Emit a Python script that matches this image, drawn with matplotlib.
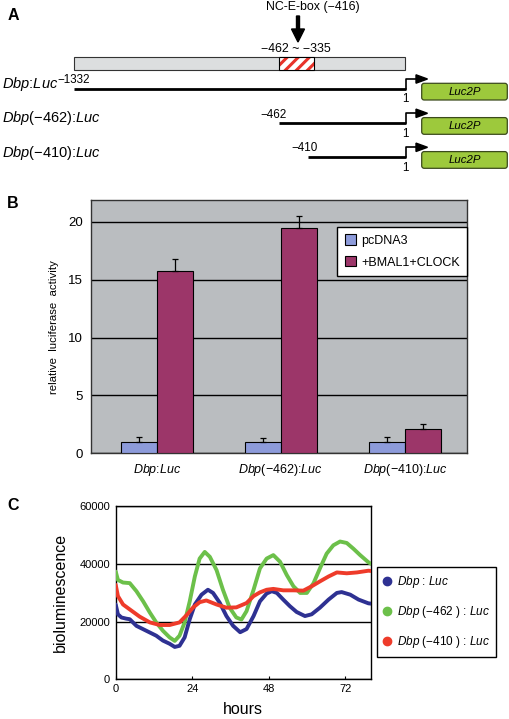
import matplotlib
matplotlib.use("Agg")
import matplotlib.pyplot as plt
from matplotlib.patches import Rectangle, FancyBboxPatch, FancyArrow, Polygon
from matplotlib.lines import Line2D
import numpy as np

plt.rcParams['font.family'] = ['Liberation Sans', 'DejaVu Sans']
plt.rcParams['mathtext.fontset'] = 'custom'
plt.rcParams['mathtext.rm'] = 'Liberation Sans'
plt.rcParams['mathtext.it'] = 'Liberation Sans:italic'
plt.rcParams['hatch.linewidth'] = 2.2

# ---------------- data ----------------
# Panel A (schematic)
construct_labels = [r"$\it{Dbp}$:$\it{Luc}$", r"$\it{Dbp}$(−462):$\it{Luc}$", r"$\it{Dbp}$(−410):$\it{Luc}$"]
construct_start_labels = ["−1332", "−462", "−410"]
reporter_label = "Luc2P"
ebox_label = "NC-E-box (−416)"
region_label = "−462 ~ −335"

# Panel B
groups = [r"$\it{Dbp}$:$\it{Luc}$", r"$\it{Dbp}$(−462):$\it{Luc}$", r"$\it{Dbp}$(−410):$\it{Luc}$"]
pcdna3 = [1.0, 1.0, 1.0]
pcdna3_err = [0.4, 0.35, 0.4]
bmal_clock = [15.8, 19.5, 2.1]
bmal_clock_err = [1.0, 1.0, 0.45]
series_b = ["pcDNA3", "+BMAL1+CLOCK"]

# Panel C
hours_dbp = [0, 0.7, 1.8, 3.3, 4.4, 6.5, 9.6, 12.7, 14.8, 16.9, 18.5, 20.0, 21.6, 23.2,
             24.8, 26.9, 28.9, 30.5, 32.6, 34.7, 36.8, 39.0, 41.0, 43.2, 45.2, 47.3, 48.9,
             50.5, 52.5, 54.6, 56.7, 59.3, 61.4, 64.0, 66.7, 69.3, 70.8, 73.5, 76.1, 79.2, 80]
lum_dbp = [25900, 22500, 21400, 21000, 20800, 18500, 16800, 15100, 13400, 12300, 11200, 11600,
           14500, 20800, 25900, 29300, 31000, 29900, 26500, 21900, 18500, 16300, 17400, 21900,
           27000, 29700, 30500, 29900, 27600, 25300, 23300, 21900, 22500, 24800, 27600, 29900,
           30200, 29300, 27600, 26300, 26200]
hours_462 = [0, 0.7, 2.3, 4.4, 6.5, 8.6, 10.7, 12.7, 14.8, 16.9, 18.5, 20.0, 21.6, 23.2, 24.8,
             26.3, 27.9, 29.5, 31.6, 33.6, 35.7, 37.8, 39.4, 41.0, 43.2, 45.2, 47.3, 49.4, 51.5,
             53.6, 55.7, 57.8, 59.9, 62.0, 64.0, 66.1, 68.2, 70.3, 72.4, 74.5, 76.6, 79.2, 80]
lum_462 = [37300, 34400, 33500, 33300, 30500, 27000, 23100, 19700, 16800, 14500, 13300, 15100,
           19700, 27000, 35600, 41800, 44100, 42400, 37800, 31000, 24800, 21400, 20700, 23600,
           31000, 38400, 41800, 43000, 40700, 36100, 32200, 29900, 29900, 33300, 38400, 43500,
           46400, 47700, 47200, 45200, 43000, 40500, 40000]
hours_410 = [0, 0.7, 2.3, 4.4, 7.5, 10.7, 13.8, 16.9, 20.0, 22.2, 24.2, 26.3, 28.4, 31.6, 34.7,
             37.8, 41.0, 43.2, 45.2, 47.3, 49.4, 52.5, 55.7, 58.8, 61.4, 64.0, 66.7, 69.3, 72.4,
             75.6, 79.2, 80]
lum_410 = [32700, 28800, 25900, 24200, 21700, 19700, 18800, 18800, 19700, 22200, 24800, 26700,
           27300, 25900, 24800, 24900, 26400, 28800, 30100, 31000, 31300, 30800, 30800, 30700,
           32200, 33900, 35600, 37000, 36700, 37000, 37600, 37500]
series_c = [r"$\it{Dbp}$ : $\it{Luc}$", r"$\it{Dbp}$ (−462 ) : $\it{Luc}$", r"$\it{Dbp}$ (−410 ) : $\it{Luc}$"]
colors_c = ["#2e3192", "#6cc04a", "#ee3b2a"]

W, H = 509, 719
fig = plt.figure(figsize=(W / 100, H / 100), dpi=100)
fig.patch.set_facecolor("white")

def fx(x):
    return x / W

def fy(y):
    return 1 - y / H

# ---------------- Panel A ----------------
axA = fig.add_axes([0, fy(190), 1, 190 / H])
axA.set_xlim(0, W)
axA.set_ylim(190, 0)
axA.axis("off")

axA.text(313, 7, ebox_label, ha="center", va="center", fontsize=8.9)
axA.add_patch(FancyArrow(298, 16, 0, 26, width=3, head_width=13, head_length=13,
                         length_includes_head=True, color="black"))
axA.text(296, 49, region_label, ha="center", va="center", fontsize=8.9)
axA.add_patch(Rectangle((74, 57.3), 331.3, 12.7, facecolor="#dcdedf", edgecolor="#333333", lw=0.8))
axA.add_patch(Rectangle((279.3, 57.3), 35, 12.7, facecolor="white", edgecolor="#e8332a",
                        hatch="///", lw=0))
axA.add_patch(Rectangle((279.3, 57.3), 35, 12.7, facecolor="none", edgecolor="black", lw=0.8))

row_y = [89, 123.3, 157.3]
row_label_y = [84, 118, 153]
line_x0 = [74, 279.3, 308.3]
start_lbl_pos = [(57, 80, "left"), (274, 115, "center"), (305, 148, "center")]
prom_x = 405.7
for i in range(3):
    y = row_y[i]
    axA.text(2, row_label_y[i], construct_labels[i], ha="left", va="center", fontsize=10.5)
    sx, sy, sha = start_lbl_pos[i]
    axA.text(sx, sy, construct_start_labels[i], ha=sha, va="center", fontsize=8.4)
    axA.plot([line_x0[i], prom_x], [y, y], color="black", lw=2.0, solid_capstyle="butt")
    # promoter arrow
    top = y - 10
    axA.plot([prom_x, prom_x, 417], [y, top, top], color="black", lw=1.2)
    axA.add_patch(Polygon([[416, top - 4.2], [416, top + 4.2], [427.5, top]], closed=True,
                          color="black"))
    axA.text(prom_x, y + 10.5, "1", ha="center", va="center", fontsize=8.4)
    axA.add_patch(FancyBboxPatch((421.7, y - 5.7), 85.6, 16.7,
                                 boxstyle="round,pad=0,rounding_size=2.5",
                                 facecolor="#9dc93c", edgecolor="#3b4a1c", lw=0.9))
    axA.text(464.5, y + 2.6, reporter_label, ha="center", va="center", fontsize=8.2,
             style="italic")

# ---------------- Panel B ----------------
axB = fig.add_axes([fx(91), fy(453.3), 376 / W, 253.3 / H])
axB.set_facecolor("#babdc0")
x = np.arange(len(groups))
w = 0.29
axB.bar(x - w / 2, pcdna3, w, color="#8d9bda", edgecolor="black", lw=0.8, label=series_b[0],
        yerr=[np.zeros(3), pcdna3_err], error_kw=dict(ecolor="black", elinewidth=0.9,
                                                     capsize=2.5, capthick=0.9), zorder=3)
axB.bar(x + w / 2, bmal_clock, w, color="#9c3669", edgecolor="black", lw=0.8, label=series_b[1],
        yerr=[np.zeros(3), bmal_clock_err], error_kw=dict(ecolor="black", elinewidth=0.9,
                                                         capsize=2.5, capthick=0.9), zorder=3)
axB.set_xlim(-0.53, 2.5)
axB.set_ylim(0, 21.9)
axB.set_yticks([0, 5, 10, 15, 20])
axB.set_xticks(x)
axB.set_xticklabels(groups, fontsize=9)
axB.tick_params(axis="y", length=0, pad=6, labelsize=9.5)
axB.tick_params(axis="x", length=0, pad=6)
axB.yaxis.grid(True, color="black", lw=1.0)
axB.set_axisbelow(True)
for s in axB.spines.values():
    s.set_color("#333333")
    s.set_linewidth(1.0)
axB.set_ylabel("relative  luciferase  activity", fontsize=8.2, labelpad=6)
legB = axB.legend(loc="upper right", bbox_to_anchor=(1.0, 0.8946), borderaxespad=0,
                  fontsize=9, frameon=True, fancybox=False, handlelength=0.9, handleheight=0.9,
                  handletextpad=0.4, borderpad=0.6, labelspacing=0.75)
legB.get_frame().set_edgecolor("black")
legB.get_frame().set_linewidth(1.0)
legB.get_frame().set_facecolor("white")
legB.get_frame().set_alpha(1)

# ---------------- Panel C ----------------
axC = fig.add_axes([fx(115.7), fy(679.3), 255.3 / W, 173.3 / H])
for hrs, vals, c in zip([hours_dbp, hours_462, hours_410], [lum_dbp, lum_462, lum_410], colors_c):
    axC.plot(hrs, vals, color=c, lw=2.8, solid_capstyle="round", solid_joinstyle="round",
             zorder=3)
axC.set_xlim(0, 80)
axC.set_ylim(0, 60000)
axC.set_xticks([0, 24, 48, 72])
axC.set_yticks([0, 20000, 40000, 60000])
axC.tick_params(direction="in", length=2.5, labelsize=8, width=0.8)
axC.tick_params(axis="y", length=0, pad=4)
axC.yaxis.grid(True, color="black", lw=1.0)
axC.set_axisbelow(True)
for s in axC.spines.values():
    s.set_color("black")
    s.set_linewidth(1.0)
axC.set_ylabel("bioluminescence", fontsize=11.5, labelpad=8)
axC.set_xlabel("hours", fontsize=11.5, labelpad=6)
handles = [Line2D([], [], ls="none", marker="o", markersize=6, color=c) for c in colors_c]
legC = axC.legend(handles, series_c, loc="upper left", bbox_to_anchor=(1.0223, 0.6463),
                  borderaxespad=0, fontsize=8.5, frameon=True, fancybox=False,
                  handlelength=0.7, handletextpad=0.45, borderpad=0.55, labelspacing=1.2)
legC.get_frame().set_edgecolor("black")
legC.get_frame().set_linewidth(1.0)
legC.get_frame().set_alpha(1)

# panel letters
for lbl, (px, py) in zip(["A", "B", "C"], [(13, 15), (13, 204), (13, 506)]):
    fig.text(fx(px), fy(py), lbl, ha="center", va="center", fontsize=11.5, fontweight="bold")

fig.savefig("out.png", dpi=100)
